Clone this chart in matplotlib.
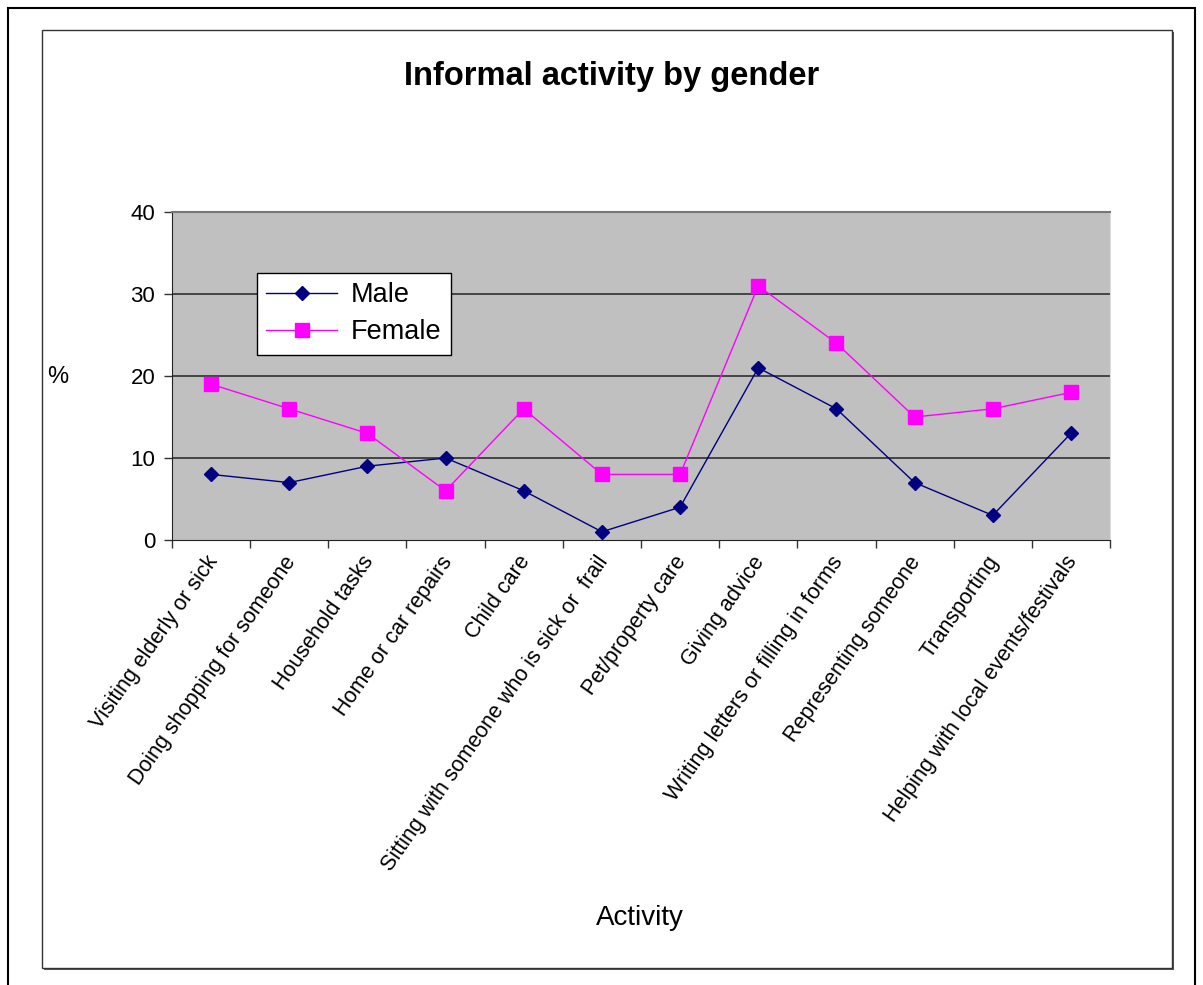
import matplotlib
matplotlib.use("Agg")
import matplotlib.pyplot as plt
from matplotlib.patches import Rectangle

categories = ["Visiting elderly or sick", "Doing shopping for someone", "Household tasks",
              "Home or car repairs", "Child care", "Sitting with someone who is sick or  frail",
              "Pet/property care", "Giving advice", "Writing letters or filling in forms",
              "Representing someone", "Transporting", "Helping with local events/festivals"]
male = [8, 7, 9, 10, 6, 1, 4, 21, 16, 7, 3, 13]
female = [19, 16, 13, 6, 16, 8, 8, 31, 24, 15, 16, 18]
yticks = [0, 10, 20, 30, 40]

plt.rcParams['font.family'] = ['Liberation Sans', 'DejaVu Sans']
W, H = 1203, 985
fig = plt.figure(figsize=(W/100, H/100), dpi=100)

def px(x0, y0, x1, y1):
    return [x0/W, 1 - y1/H, (x1-x0)/W, (y1-y0)/H]

# outer frame and chart area box
fig.patches.append(Rectangle((8/W, -0.01), (1195-8)/W, (985-8)/H + 0.01, transform=fig.transFigure,
                             fill=False, edgecolor='black', linewidth=1.5, zorder=-3))
fig.patches.append(Rectangle((44/W, 1-970/H), (1174-44)/W, (970-32)/H, transform=fig.transFigure,
                             facecolor='#555555', edgecolor='none', zorder=-2))
fig.patches.append(Rectangle((42/W, 1-968/H), (1172-42)/W, (968-30)/H, transform=fig.transFigure,
                             facecolor='white', edgecolor='#333333', linewidth=1.0, zorder=-1))

ax = fig.add_axes(px(172, 212, 1110, 540))
ax.set_facecolor('#C0C0C0')
n = len(categories)
x = list(range(n))
ax.plot(x, male, color='#000080', marker='D', markersize=7.5, linewidth=1.0, label='Male', zorder=3)
ax.plot(x, female, color='#FF00FF', marker='s', markersize=9.5, linewidth=1.0, label='Female', zorder=3)
ax.set_xlim(-0.5, n-0.5)
ax.set_ylim(0, 40)
ax.set_yticks(yticks)
ax.set_yticklabels([str(v) for v in yticks], fontsize=16)
for v in yticks[1:]:
    ax.axhline(v, color='#3a3a3a', linewidth=1.3, zorder=1)
ax.set_xticks([i - 0.5 for i in range(n+1)], minor=False)
ax.set_xticklabels([''] * (n+1))
ax.tick_params(axis='x', direction='out', length=6, width=1, color='#333333')
ax.tick_params(axis='y', direction='out', length=6, width=1, color='#333333', pad=6)
for i, c in enumerate(categories):
    ax.text(i + 0.03, -0.055, c, transform=ax.get_xaxis_transform(), rotation=55,
            rotation_mode='anchor', ha='right', va='center', fontsize=15.5)
ax.spines['top'].set_color('#777777'); ax.spines['top'].set_linewidth(1.5)
ax.spines['right'].set_color('#DDDDDD')
ax.spines['left'].set_color('#222222')
ax.spines['bottom'].set_color('#222222')

leg = ax.legend(loc='upper left', bbox_to_anchor=((257-172)/938, 1-(273-212)/328), fontsize=19.5,
                frameon=True, fancybox=False, edgecolor='black', framealpha=1, borderaxespad=0,
                handlelength=2.6, borderpad=0.35, labelspacing=0.4, handletextpad=0.5)
leg.get_frame().set_linewidth(1.0)

fig.text(612/W, 1-76/H, 'Informal activity by gender', ha='center', va='center',
         fontsize=23.5, fontweight='bold')
fig.text(58/W, 1-377/H, '%', ha='center', va='center', fontsize=17)
fig.text(640/W, 1-918/H, 'Activity', ha='center', va='center', fontsize=20)

fig.savefig('out.png', dpi=100)
